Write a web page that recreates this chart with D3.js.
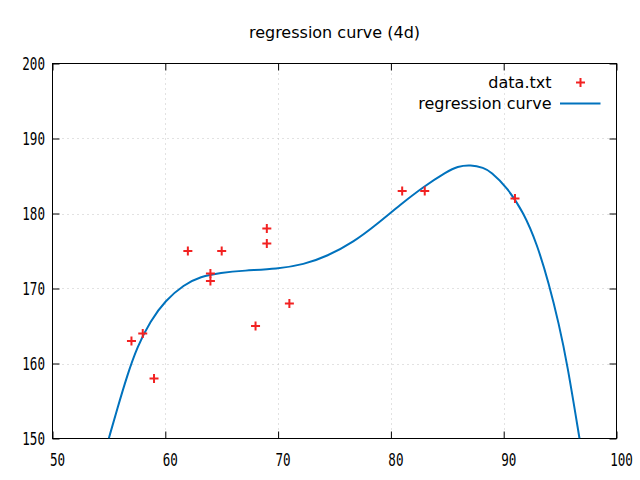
<!DOCTYPE html>
<html>
<head>
<meta charset="utf-8">
<script src="https://cdn.jsdelivr.net/npm/d3@7"></script>
<style>
  html, body { margin: 0; padding: 0; background: #fff; }
  svg { display: block; }
</style>
</head>
<body>
<script>
// ---- data ----
const dataX = [57, 58, 59, 62, 64, 64, 65, 68, 69, 69, 71, 81, 83, 91];
const dataY = [163, 164, 158, 175, 172, 171, 175, 165, 178, 176, 168, 183, 183, 182];

// regression curve
const curveX = [54.99, 55.73, 56.62, 57.5, 58.69, 60.0, 61.64, 63.12, 64.9, 66.96, 69.92, 72.28, 74.35, 76.7, 78.79, 80.85, 82.92, 84.99, 85.88, 87.06, 88.24, 88.83, 90.3, 91.78, 92.96, 94.0, 94.89, 95.63, 96.72];
const curveY = [150, 153.9, 158.4, 162.2, 165.7, 168.4, 170.5, 171.6, 172.1, 172.4, 172.6, 173.2, 174.3, 176.2, 178.6, 181.2, 183.6, 185.6, 186.27, 186.5, 186.09, 185.6, 183.5, 180.1, 175.9, 170.7, 165.3, 160.0, 150];

const xTicks = [50, 60, 70, 80, 90, 100];
const yTicks = [150, 160, 170, 180, 190, 200];
const titleText = "regression curve (4d)";
const legendLabels = ["data.txt", "regression curve"];

// ---- layout ----
const W = 640, H = 480;
const L = 52.5, R = 616.5, T = 63.5, B = 438.5;

const x = d3.scaleLinear().domain([50, 100]).range([L, R]);
const y = d3.scaleLinear().domain([150, 200]).range([B, T]);

const svg = d3.select("body").append("svg").attr("width", W).attr("height", H);

const pointColor = "#f22222";
const lineColor = "#0072bd";
const tickFont = "'DejaVu Sans Mono', monospace";
const textFont = "'DejaVu Sans', sans-serif";

// grid
const grid = svg.append("g").attr("stroke", "#c4c4c4").attr("stroke-width", 1).attr("stroke-dasharray", "1,4");
xTicks.slice(1, -1).forEach(v => {
  grid.append("line").attr("x1", Math.round(x(v)) + 0.5).attr("x2", Math.round(x(v)) + 0.5).attr("y1", T).attr("y2", B);
});
yTicks.slice(1, -1).forEach(v => {
  grid.append("line").attr("x1", L).attr("x2", R).attr("y1", Math.round(y(v)) + 0.5).attr("y2", Math.round(y(v)) + 0.5);
});

// axes via d3 (inner ticks, mirrored)
const tickLen = 7;
const axB = svg.append("g").attr("transform", `translate(0,${B})`)
  .call(d3.axisBottom(x).tickValues(xTicks).tickSize(-tickLen).tickFormat(""));
const axT = svg.append("g").attr("transform", `translate(0,${T})`)
  .call(d3.axisTop(x).tickValues(xTicks).tickSize(-tickLen).tickFormat(""));
const axL = svg.append("g").attr("transform", `translate(${L},0)`)
  .call(d3.axisLeft(y).tickValues(yTicks).tickSize(-tickLen).tickFormat(""));
const axR = svg.append("g").attr("transform", `translate(${R},0)`)
  .call(d3.axisRight(y).tickValues(yTicks).tickSize(-tickLen).tickFormat(""));
[axB, axT, axL, axR].forEach(a => {
  a.selectAll(".domain").remove();
  a.selectAll("line").attr("stroke", "#000").attr("stroke-width", 1);
});

// frame
svg.append("rect").attr("x", L).attr("y", T).attr("width", R - L).attr("height", B - T)
  .attr("fill", "none").attr("stroke", "#000").attr("stroke-width", 1);

// tick labels (condensed mono)
const sx = 0.74;
xTicks.forEach(v => {
  svg.append("text")
    .attr("transform", `translate(${x(v) + 5},466) scale(${sx},1)`)
    .attr("text-anchor", "middle")
    .attr("font-family", tickFont).attr("font-size", 17)
    .attr("fill", "#000").text(v);
});
yTicks.forEach(v => {
  svg.append("text")
    .attr("transform", `translate(45,${y(v) + 6}) scale(${sx},1)`)
    .attr("text-anchor", "end")
    .attr("font-family", tickFont).attr("font-size", 17)
    .attr("fill", "#000").text(v);
});

// title
svg.append("text").attr("x", 334.5).attr("y", 38).attr("text-anchor", "middle")
  .attr("font-family", textFont).attr("font-size", 16).attr("fill", "#000").text(titleText);

// clip
svg.append("clipPath").attr("id", "clip").append("rect")
  .attr("x", L).attr("y", T).attr("width", R - L).attr("height", B - T);

// regression curve
const curvePts = curveX.map((cx, i) => [cx, curveY[i]]);
svg.append("path")
  .attr("clip-path", "url(#clip)")
  .attr("d", d3.line().x(d => x(d[0])).y(d => y(d[1])).curve(d3.curveBasis)(curvePts))
  .attr("fill", "none").attr("stroke", lineColor).attr("stroke-width", 2);

// points
function plus(g, cx, cy) {
  const s = 4.5;
  g.append("path").attr("d", `M${cx - s},${cy}H${cx + s}M${cx},${cy - s}V${cy + s}`)
    .attr("stroke", pointColor).attr("stroke-width", 2).attr("fill", "none");
}
const pg = svg.append("g");
dataX.forEach((dx, i) => plus(pg, x(dx), y(dataY[i])));

// legend
svg.append("text").attr("x", 551.5).attr("y", 88).attr("text-anchor", "end")
  .attr("font-family", textFont).attr("font-size", 16).attr("fill", "#000").text(legendLabels[0]);
plus(svg, 580.5, 82.5);
svg.append("text").attr("x", 551.5).attr("y", 109).attr("text-anchor", "end")
  .attr("font-family", textFont).attr("font-size", 16).attr("fill", "#000").text(legendLabels[1]);
svg.append("line").attr("x1", 560).attr("x2", 600.5).attr("y1", 103.5).attr("y2", 103.5)
  .attr("stroke", lineColor).attr("stroke-width", 2);
</script>
</body>
</html>
